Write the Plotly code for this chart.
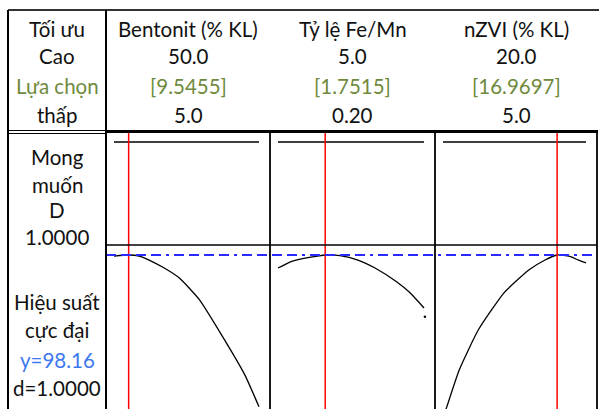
import plotly.graph_objects as go

# ---- data -------------------------------------------------------------
factors = ["Bentonit (% KL)", "Tỷ lệ Fe/Mn", "nZVI (% KL)"]
high_vals = [50.0, 5.0, 20.0]
low_vals = [5.0, 0.2, 5.0]
optimum = [9.5455, 1.7515, 16.9697]
high_labels = ["50.0", "5.0", "20.0"]
low_labels = ["5.0", "0.20", "5.0"]
opt_labels = ["[9.5455]", "[1.7515]", "[16.9697]"]

composite_D = 1.0
y_opt = 98.16
d_opt = 1.0

# response traces (Hiệu suất) along each factor
bentonit_x = [5.0, 9.5455, 12.8, 15.9, 20.6, 25.3, 31.6, 38.75, 45.6, 50.0]
bentonit_y = [97.9, 98.16, 97.9, 96.9, 94.9, 92.4, 86.9, 77.7, 68.2, 60.2]

ratio_x = [0.2, 0.59, 1.09, 1.51, 1.7515, 2.24, 2.83, 3.39, 4.11, 4.54, 5.0]
ratio_y = [94.9, 96.4, 97.4, 97.9, 98.16, 98.0, 96.9, 94.9, 91.4, 88.7, 84.9]
ratio_end_x = [5.03]
ratio_end_y = [82.7]

nzvi_x = [5.0, 5.4, 6.7, 8.7, 11.4, 14.0, 15.7, 16.9697, 18.3, 19.2, 20.0]
nzvi_y = [57.4, 60.2, 69.4, 79.4, 88.7, 94.4, 96.9, 98.16, 97.8, 96.9, 96.2]

curves_x = [bentonit_x, ratio_x, nzvi_x]
curves_y = [bentonit_y, ratio_y, nzvi_y]

# ---- layout geometry (pixels) -----------------------------------------
W, H = 600, 409
FONT = "Lato"
BLACK = "#111111"
OLIVE = "#6f8a3c"
BLUE = "#3c78f0"
FS = 20.5


def px(x):
    return x / W


def py(y):
    return 1 - y / H


col_edges = [106, 270, 435, 597]
pad_l, pad_r = 8, 11          # inner padding of each panel, px
top_row = (133, 245)          # desirability row
bot_row = (245, H)            # response row
d_px = 142                    # pixel row of D = 1
resp_scale = 4.0              # px per response unit
resp_opt_px = 255

fig = go.Figure()

for i in range(3):
    x0p, x1p = col_edges[i], col_edges[i + 1]
    lo, hi = low_vals[i], high_vals[i]
    scale = (x1p - x0p - pad_l - pad_r) / (hi - lo)
    xr = [lo - pad_l / scale, hi + pad_r / scale]
    dom_x = [px(x0p), px(x1p)]

    top_ax = "" if i == 0 else str(i + 1)
    bot_ax = str(i + 4)

    # upper row: composite desirability
    fig.add_trace(go.Scatter(
        x=[lo, hi], y=[composite_D, composite_D], mode="lines",
        line=dict(color="black", width=1.6),
        xaxis="x" + top_ax, yaxis="y" + top_ax, showlegend=False,
        hoverinfo="skip"))
    # lower row: response
    fig.add_trace(go.Scatter(
        x=curves_x[i], y=curves_y[i], mode="lines",
        line=dict(color="black", width=1.3, shape="spline", smoothing=0.5),
        xaxis="x" + bot_ax, yaxis="y" + bot_ax, showlegend=False,
        hoverinfo="skip"))

    d_top = composite_D + (d_px - top_row[0]) / 100.0
    d_bot = d_top - (top_row[1] - top_row[0]) / 100.0
    r_top = y_opt + (resp_opt_px - bot_row[0]) / resp_scale
    r_bot = r_top - (bot_row[1] - bot_row[0]) / resp_scale

    common = dict(visible=False, showgrid=False, zeroline=False, fixedrange=True)
    fig.update_layout(**{
        "xaxis" + top_ax: dict(domain=dom_x, range=xr, anchor="y" + top_ax, **common),
        "yaxis" + top_ax: dict(domain=[py(top_row[1]), py(top_row[0])],
                               range=[d_bot, d_top], anchor="x" + top_ax, **common),
        "xaxis" + bot_ax: dict(domain=dom_x, range=xr, anchor="y" + bot_ax, **common),
        "yaxis" + bot_ax: dict(domain=[0, py(bot_row[0])],
                               range=[r_bot, r_top], anchor="x" + bot_ax, **common),
    })

    # red line at the optimal setting, through both rows
    fig.add_shape(type="line", xref="x" + bot_ax, yref="paper",
                  x0=optimum[i], x1=optimum[i], y0=0, y1=py(133),
                  line=dict(color="#ff0000", width=1.5))

# stray end point of the Fe/Mn trace
fig.add_trace(go.Scatter(x=ratio_end_x, y=ratio_end_y, mode="markers",
                         marker=dict(color="black", size=2.5),
                         xaxis="x5", yaxis="y5", showlegend=False,
                         hoverinfo="skip"))

# blue dash-dot reference at the predicted response
fig.add_shape(type="line", xref="paper", yref="y4",
              x0=px(106), x1=px(597), y0=y_opt, y1=y_opt,
              line=dict(color="#2a2aff", width=2,
                        dash="10px,5px,10px,5px,10px,5px,10px,5px,3px,5px"))


# ---- table frame --------------------------------------------------------
def hline(y, x0, x1, w=1.5, color="black"):
    fig.add_shape(type="line", xref="paper", yref="paper",
                  x0=px(x0), x1=px(x1), y0=py(y), y1=py(y),
                  line=dict(color=color, width=w))


def vline(x, y0, y1, w=1.5, color="black"):
    fig.add_shape(type="line", xref="paper", yref="paper",
                  x0=px(x), x1=px(x), y0=py(y0), y1=py(y1),
                  line=dict(color=color, width=w))


hline(10, 8, 599, 2, "#333333")
vline(8, 10, H, 2)
vline(106, 10, H, 2)
hline(130.5, 8, 106, 1)
hline(133.5, 8, 106, 1)
hline(131.5, 106, 598, 3)
for xe in col_edges[1:]:
    vline(xe, 131, H, 1.8)
hline(245, 106, 597, 1.5)


# ---- text ---------------------------------------------------------------
def label(x, y, text, color=BLACK, size=FS):
    fig.add_annotation(x=px(x), y=py(y), xref="paper", yref="paper",
                       text=text, showarrow=False, xanchor="center",
                       yanchor="middle",
                       font=dict(family=FONT, size=size, color=color))


row_y = [29, 56, 86, 115]
label(57, row_y[0], "Tối ưu")
label(57, row_y[1], "Cao")
label(57, row_y[2], "Lựa chọn", OLIVE)
label(57, row_y[3], "thấp")

for i in range(3):
    cx = (col_edges[i] + col_edges[i + 1]) / 2
    label(cx, row_y[0], factors[i])
    label(cx, row_y[1], high_labels[i])
    label(cx, row_y[2], opt_labels[i], OLIVE)
    label(cx, row_y[3], low_labels[i])

label(57, 157, "Mong")
label(57, 185, "muốn")
label(57, 210, "D")
label(57, 237, f"{composite_D:.4f}")

label(57, 302, "Hiệu suất")
label(57, 330, "cực đại")
label(57, 360, f"y={y_opt:.2f}", BLUE)
label(57, 388, f"d={d_opt:.4f}")

fig.update_layout(width=W, height=H, margin=dict(l=0, r=0, t=0, b=0),
                  paper_bgcolor="white", plot_bgcolor="rgba(0,0,0,0)",
                  showlegend=False)

fig.write_html("out.html")
